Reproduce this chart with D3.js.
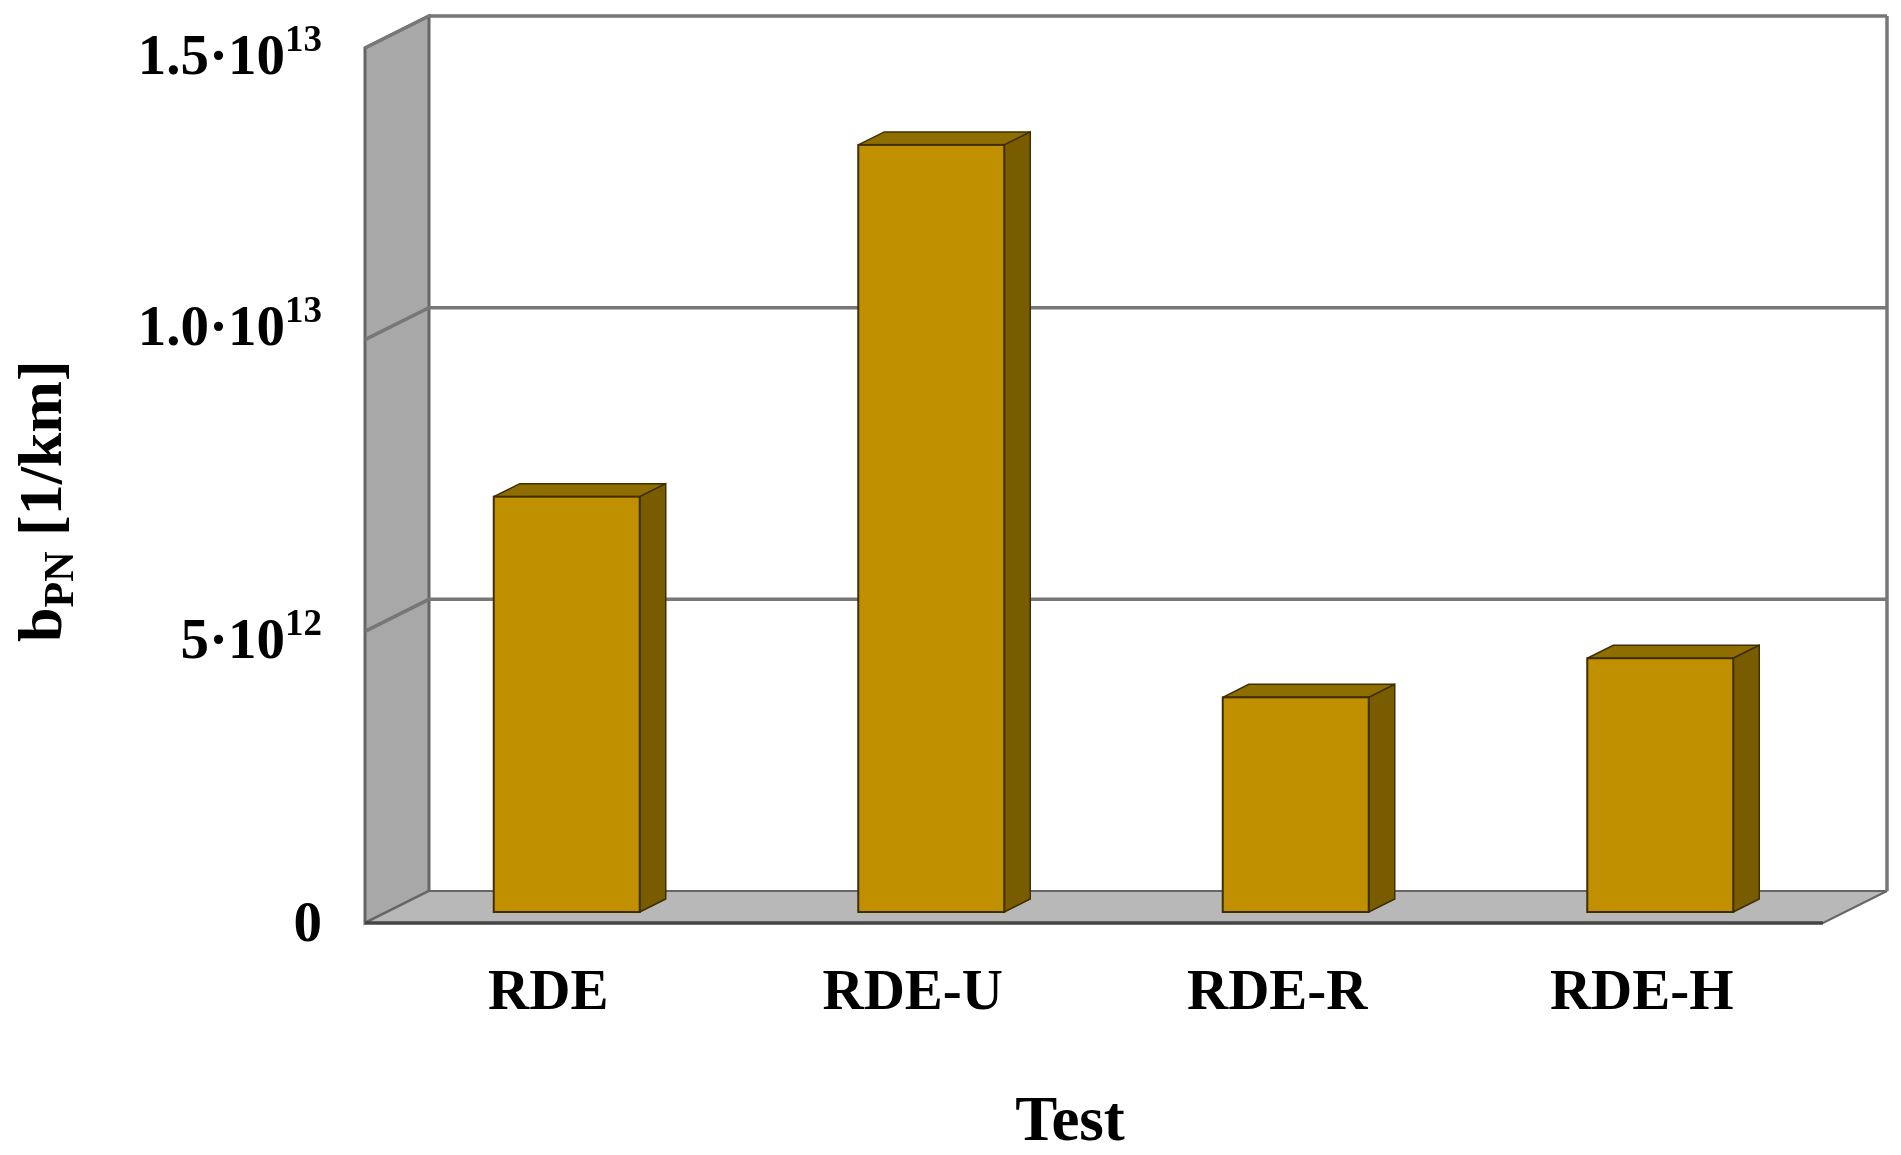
<!DOCTYPE html>
<html>
<head>
<meta charset="utf-8">
<script src="https://cdn.jsdelivr.net/npm/d3@7"></script>
<style>
  html, body { margin: 0; background: #fff; }
  svg { display: block; }
  text { font-family: "Liberation Serif", serif; font-weight: bold; fill: #000; }
</style>
</head>
<body>
<svg id="chart" width="1901" height="1155"></svg>
<script>
const categories = ['RDE', 'RDE-U', 'RDE-R', 'RDE-H'];
const values = [7.12e12, 13.15e12, 3.68e12, 4.35e12];
const yTicks = [0, 5e12, 1e13, 1.5e13];
const yTickMantissa = ['0', '5', '1.0', '1.5'];
const yTickExponent = ['', '12', '13', '13'];
// the tick labels sit unevenly in the reference
const yTickShift = [17, 26, 5, 25];

const svg = d3.select('#chart');

const x = d3.scaleBand().domain(categories).range([365, 1823]);
const y = d3.scaleLinear().domain([0, 1.5e13]).range([923, 48]);

const wallDx = 64, wallDy = 32;
const barW = 146, barDx = 26, barDy = 13;
const barOffX = 19.5, barOffY = -11;

const defs = svg.append('defs');
defs.append('filter').attr('id', 'soft')
  .append('feGaussianBlur').attr('stdDeviation', 0.7);
defs.append('filter').attr('id', 'softText')
  .append('feGaussianBlur').attr('stdDeviation', 0.5);

const plot = svg.append('g').attr('filter', 'url(#soft)');
const left = x.range()[0], right = x.range()[1];
const y0 = y(0), yTop = y(1.5e13);

const poly = pts => pts.map(p => p.join(',')).join(' ');

// left wall
plot.append('polygon')
  .attr('points', poly([[left, y0], [left + wallDx, y0 - wallDy], [left + wallDx, yTop - wallDy], [left, yTop]]))
  .attr('fill', '#a8a8a8').attr('stroke', '#666').attr('stroke-width', 3);

// floor
plot.append('polygon')
  .attr('points', poly([[left, y0], [left + wallDx, y0 - wallDy], [right + wallDx, y0 - wallDy], [right, y0]]))
  .attr('fill', '#b8b8b8').attr('stroke', '#666').attr('stroke-width', 2);
plot.append('line')
  .attr('x1', left).attr('x2', right).attr('y1', y0).attr('y2', y0)
  .attr('stroke', '#444').attr('stroke-width', 3.5);

// back wall right edge
plot.append('line')
  .attr('x1', right + wallDx).attr('x2', right + wallDx)
  .attr('y1', y0 - wallDy).attr('y2', yTop - wallDy)
  .attr('stroke', '#777').attr('stroke-width', 3.5);

// gridlines, back wall and slanted part on the side wall
yTicks.slice(1).forEach(v => {
  plot.append('path')
    .attr('d', `M${left},${y(v)}L${left + wallDx},${y(v) - wallDy}H${right + wallDx}`)
    .attr('fill', 'none').attr('stroke', '#777').attr('stroke-width', 3.5);
});

// bars
const bars = plot.selectAll('g.bar')
  .data(categories.map((c, i) => ({ c, v: values[i] })))
  .join('g').attr('class', 'bar');

const bx = d => x(d.c) + x.bandwidth() / 2 + barOffX - barW / 2;
const by = d => y(d.v) + barOffY;
const base = y0 + barOffY;

bars.append('polygon')
  .attr('points', d => poly([[bx(d), by(d)], [bx(d) + barDx, by(d) - barDy], [bx(d) + barW + barDx, by(d) - barDy], [bx(d) + barW, by(d)]]))
  .attr('fill', '#8f6e00').attr('stroke', '#3f2f00').attr('stroke-width', 1.5);
bars.append('polygon')
  .attr('points', d => poly([[bx(d) + barW, by(d)], [bx(d) + barW + barDx, by(d) - barDy], [bx(d) + barW + barDx, base - barDy], [bx(d) + barW, base]]))
  .attr('fill', '#7a5c00').attr('stroke', '#3f2f00').attr('stroke-width', 1.5);
bars.append('rect')
  .attr('x', bx).attr('y', by)
  .attr('width', barW).attr('height', d => base - by(d))
  .attr('fill', '#c09000').attr('stroke', '#3f2f00').attr('stroke-width', 2);

const labels = svg.append('g').attr('filter', 'url(#softText)');

// y axis
const yAxis = labels.append('g')
  .attr('transform', 'translate(322,0)')
  .call(d3.axisLeft(y).tickValues(yTicks).tickSize(0).tickPadding(0).tickFormat(''));
yAxis.select('.domain').remove();
yAxis.selectAll('.tick text').each(function (d, i) {
  const t = d3.select(this)
    .attr('x', 0).attr('dy', null).attr('y', yTickShift[i])
    .attr('text-anchor', 'end').attr('font-size', 57)
    .style('font-family', null);
  if (yTickExponent[i]) {
    t.append('tspan').text(yTickMantissa[i] + '·10');
    t.append('tspan').text(yTickExponent[i]).attr('font-size', 37).attr('dy', -23);
  } else {
    t.text(yTickMantissa[i]);
  }
});

// x axis
const xAxis = labels.append('g')
  .attr('transform', 'translate(1,1009)')
  .call(d3.axisBottom(x).tickSize(0).tickPadding(0));
xAxis.select('.domain').remove();
xAxis.selectAll('.tick text')
  .attr('y', 0).attr('dy', null)
  .attr('font-size', 57).style('font-family', null);

labels.append('text')
  .attr('x', 1070).attr('y', 1140)
  .attr('text-anchor', 'middle').attr('font-size', 63)
  .text('Test');

const yTitle = labels.append('text')
  .attr('transform', 'translate(61,642) rotate(-90)')
  .attr('font-size', 62);
yTitle.append('tspan').text('b');
yTitle.append('tspan').text('PN').attr('font-size', 42).attr('dy', 12);
yTitle.append('tspan').text(' [1/km]').attr('dy', -12);
</script>
</body>
</html>
